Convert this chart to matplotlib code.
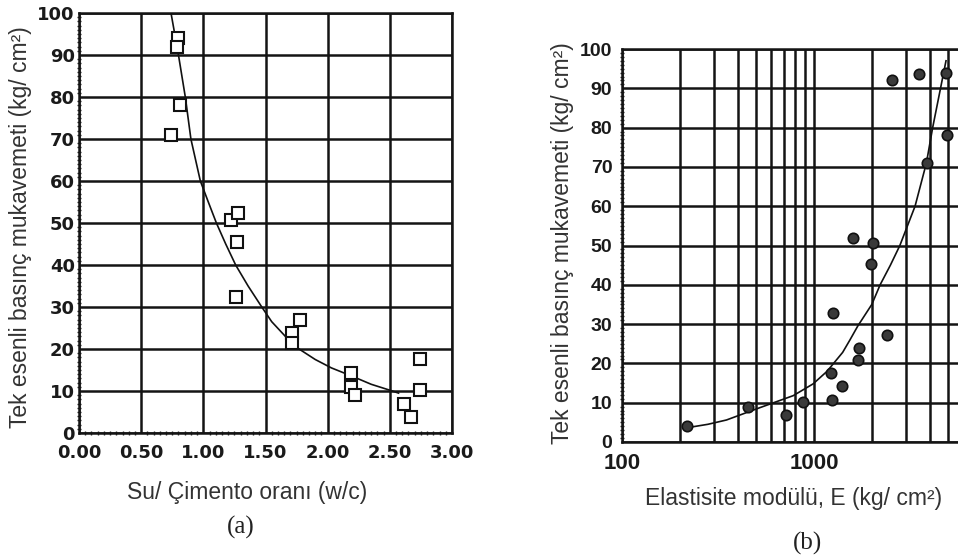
import numpy as np
import matplotlib.pyplot as plt
from matplotlib.ticker import MultipleLocator, NullFormatter, FixedLocator

# panel (a): water / cement ratio vs strength
wc_ratio = [0.80, 0.79, 0.81, 0.74, 1.22, 1.28, 1.27, 1.26, 1.71, 1.71, 1.78,
            2.19, 2.19, 2.22, 2.61, 2.67, 2.74, 2.74]
strength_a = [94, 92, 78, 71, 50.7, 52.4, 45.5, 32.4, 23.8, 21.4, 27,
              14.3, 11, 9, 6.9, 3.8, 10.2, 17.6]
curve_a_wc = [0.74, 0.80, 0.855, 0.90, 0.976, 1.04, 1.105, 1.18, 1.26, 1.36,
              1.47, 1.55, 1.66, 1.77, 1.90, 2.03, 2.19, 2.35, 2.52, 2.57]
curve_a_str = [100, 90, 80, 70, 60, 55, 50, 45, 40, 35,
               30, 26.5, 23, 20, 17.5, 15.5, 13.6, 11.6, 10, 9.5]

# panel (b): elastic modulus vs strength
modulus_E = [218, 453, 715, 875, 1238, 1401, 1225, 1694, 1710, 2397, 1253,
             1597, 2027, 1980, 3855, 4939, 4869, 3525, 2543]
strength_b = [4.1, 8.9, 6.9, 10.2, 10.7, 14.2, 17.6, 20.9, 23.9, 27.2, 32.8,
              51.9, 50.6, 45.3, 71, 78.1, 93.9, 93.6, 92.1]
curve_b_E = [210, 280, 350, 520, 780, 990, 1170, 1410, 1540, 1690, 2000,
             2210, 2500, 2800, 3360, 3850, 4150, 4560, 4870]
curve_b_str = [3.5, 4.5, 5.6, 8.7, 11.8, 14.8, 18, 22.8, 26, 29.5, 35,
               40, 45, 50, 60, 71, 80, 90, 97]

x_ticks_a = [0, 0.5, 1.0, 1.5, 2.0, 2.5, 3.0]
x_labels_a = ['0.00', '0.50', '1.00', '1.50', '2.00', '2.50', '3.00']
y_ticks = list(range(0, 101, 10))

ylabel = 'Tek esenli basınç mukavemeti (kg/ cm²)'

W, H = 958, 560
fig = plt.figure(figsize=(W/100, H/100), dpi=100)


def box(x0, y0, x1, y1):
    return [x0/W, 1 - y1/H, (x1 - x0)/W, (y1 - y0)/H]


def ftext(x, y, s, **kw):
    fig.text(x/W, 1 - y/H, s, ha='center', va='center', **kw)


gridc = '#141414'
lab_font = dict(family='Liberation Sans', size=16.5, color='#333333')

# ---- (a)
ax1 = fig.add_axes(box(79, 13, 452, 433))
ax1.plot(curve_a_wc, curve_a_str, color='#111111', lw=1.2, zorder=3)
ax1.plot(wc_ratio, strength_a, ls='none', marker='s', ms=8, mfc='white',
         mec='#111111', mew=1.5, zorder=4)
ax1.set_xlim(0, 3)
ax1.set_ylim(0, 100)
ax1.set_xticks(x_ticks_a)
ax1.set_xticklabels(x_labels_a)
ax1.set_yticks(y_ticks)
ax1.xaxis.set_minor_locator(MultipleLocator(0.05))
ax1.yaxis.set_minor_locator(MultipleLocator(1))
ax1.grid(which='major', color=gridc, lw=1.8)
ax1.tick_params(which='major', length=0, labelsize=13, labelcolor='#1a1a1a')
ax1.tick_params(axis='y', which='major', pad=3)
ax1.tick_params(axis='x', which='major', pad=8)
ax1.tick_params(which='minor', length=3, width=1.0, direction='inout', color='#222222')
for lbl in ax1.get_xticklabels() + ax1.get_yticklabels():
    lbl.set_fontweight('bold')
    lbl.set_family('DejaVu Sans')
for sp in ax1.spines.values():
    sp.set_linewidth(1.8)
    sp.set_color(gridc)

# ---- (b)
ax2 = fig.add_axes(box(622, 49, 622 + 384, 442))
ax2.plot(curve_b_E, curve_b_str, color='#111111', lw=1.2, zorder=3)
ax2.plot(modulus_E, strength_b, ls='none', marker='o', ms=7.5, mfc='#3a3a3a',
         mec='#111111', mew=1.2, zorder=4)
ax2.set_xscale('log')
ax2.set_xlim(100, 10000)
ax2.set_ylim(0, 100)
ax2.xaxis.set_major_locator(FixedLocator([100, 1000]))
ax2.xaxis.set_minor_locator(FixedLocator([k*10**d for d in (2, 3) for k in range(2, 10)]))
ax2.xaxis.set_minor_formatter(NullFormatter())
ax2.set_xticklabels(['100', '1000'])
ax2.set_yticks(y_ticks)
ax2.yaxis.set_minor_locator(MultipleLocator(1))
ax2.grid(axis='x', which='both', color=gridc, lw=1.8)
ax2.grid(axis='y', which='major', color=gridc, lw=1.8)
ax2.tick_params(which='major', length=0, labelcolor='#1a1a1a')
ax2.tick_params(axis='y', which='major', pad=7, labelsize=14)
ax2.tick_params(axis='x', which='major', pad=8, labelsize=16)
ax2.tick_params(axis='x', which='minor', length=0)
ax2.tick_params(axis='y', which='minor', length=3, width=1.0, direction='inout', color='#222222')
for lbl in ax2.get_xticklabels() + ax2.get_yticklabels():
    lbl.set_fontweight('bold')
    lbl.set_family('Liberation Sans')
for sp in ax2.spines.values():
    sp.set_linewidth(1.8)
    sp.set_color(gridc)

# labels
ftext(21, 227, ylabel, rotation=90, **lab_font)
ftext(247, 493, 'Su/ Çimento oranı (w/c)', **lab_font)
ftext(241, 527, '(a)', family='Liberation Serif', size=18, color='#222222')

ftext(562, 243, ylabel, rotation=90, **lab_font)
ftext(794, 498, 'Elastisite modülü, E (kg/ cm²)', **lab_font)
ftext(808, 543, '(b)', family='Liberation Serif', size=18, color='#222222')

fig.savefig('out.png', dpi=100, facecolor='white')
